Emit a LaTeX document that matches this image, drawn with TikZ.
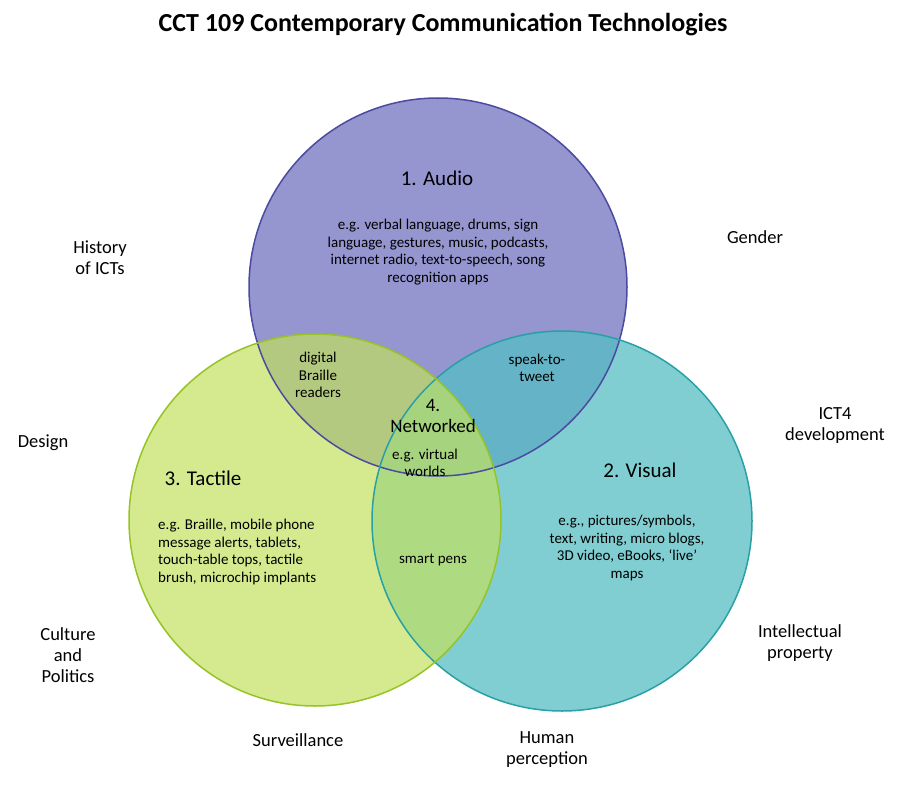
\documentclass[tikz,border=0pt]{standalone}
\usepackage{fontspec}
\setmainfont{Carlito}
\begin{document}
\begin{tikzpicture}[x=1pt,y=-1pt,
  lbl/.style={align=center,font=\fontsize{18.5}{21}\selectfont,inner sep=0pt},
  body/.style={align=center,font=\fontsize{15}{17.5}\selectfont,inner sep=0pt},
  head/.style={font=\fontsize{21}{23}\selectfont,inner sep=0pt}]
\useasboundingbox (0,0) rectangle (918,797);
\definecolor{aud}{RGB}{130,130,200}\definecolor{audl}{RGB}{75,75,160}
\definecolor{tac}{RGB}{195,225,95}\definecolor{tacl}{RGB}{150,195,40}
\definecolor{vis}{RGB}{85,190,195}\definecolor{visl}{RGB}{40,160,165}
\fill[aud,opacity=0.85] (438,287) circle (189);
\fill[vis,opacity=0.75] (562,521) circle (190);
\fill[tac,opacity=0.7] (315,520) circle (186);
\draw[audl,line width=1.5pt] (438,287) circle (189);
\draw[visl,line width=1.5pt] (562,521) circle (190);
\draw[tacl,line width=1.5pt] (315,520) circle (186);
\node[inner sep=0pt,font=\bfseries\fontsize{26}{28}\selectfont] (title) at (443,25) {CCT 109 Contemporary Communication Technologies};
\node[head] (a) at (437,178) {1. Audio};
\node[body] (ab) at (438,252) {e.g. verbal language, drums, sign\\language, gestures, music, podcasts,\\internet radio, text-to-speech, song\\recognition apps};
\node[head] (t) at (203,478) {3. Tactile};
\node[body,align=left,anchor=west] (tb) at (158,552) {e.g. Braille, mobile phone\\message alerts, tablets,\\touch-table tops, tactile\\brush, microchip implants};
\node[head] (v) at (640,470) {2. Visual};
\node[body] (vb) at (627,548) {e.g., pictures/symbols,\\text, writing, micro blogs,\\3D video, eBooks, `live'\\maps};
\node[body] (db) at (318,375) {digital\\Braille\\readers};
\node[body] (st) at (537,368) {speak-to-\\tweet};
\node[lbl,font=\fontsize{19}{21}\selectfont] (n) at (433,416) {4.\\Networked};
\node[body] (vw) at (425,463) {e.g. virtual\\worlds};
\node[body] (sp) at (433,560) {smart pens};
\node[lbl] (h) at (100,258) {History\\of ICTs};
\node[lbl] (g) at (755,237) {Gender};
\node[lbl] (i4) at (835,425) {ICT4\\development};
\node[lbl] (d) at (43,443) {Design};
\node[lbl] (cp) at (68,655) {Culture\\and\\Politics};
\node[lbl] (ip) at (800,643) {Intellectual\\property};
\node[lbl] (s) at (298,740) {Surveillance};
\node[lbl] (hp) at (547,750) {Human\\perception};
\end{tikzpicture}
\end{document}
